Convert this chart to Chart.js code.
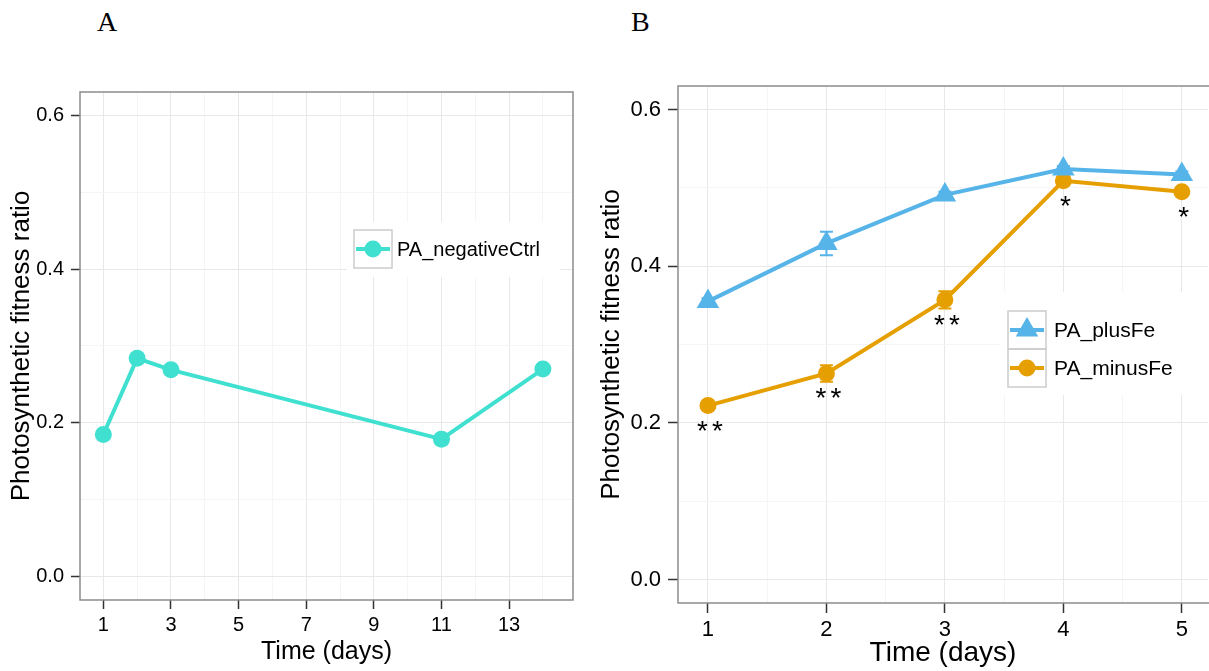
<!DOCTYPE html>
<html lang="en">
<head>
<meta charset="UTF-8">
<title>Photosynthetic fitness ratio</title>
<script src="https://cdn.jsdelivr.net/npm/chart.js"></script>
<style>
  body { margin: 0; background: #fff; }
  #wrap { position: relative; width: 1209px; height: 671px; overflow: hidden; }
  .panel { position: absolute; top: 0; }
  .tag { position: absolute; top: 6px; font-family: 'Liberation Serif', serif; font-size: 28px; color: #000; }
</style>
</head>
<body>
<div id="wrap">
  <div class="tag" style="left:97px">A</div>
  <div class="tag" style="left:631px">B</div>
  <canvas id="chartA" class="panel" style="left:0" width="590" height="671"></canvas>
  <!-- panel B runs past the right edge of the figure, as in the original -->
  <canvas id="chartB" class="panel" style="left:590px" width="631" height="671"></canvas>
</div>
<script>
// panel A data
const daysA = [1, 2, 3, 11, 14];
const negativeCtrl = [0.185, 0.284, 0.269, 0.179, 0.270];
const xTicksA = [1, 3, 5, 7, 9, 11, 13];

// panel B data
const daysB = [1, 2, 3, 4, 5];
const plusFe = [0.355, 0.429, 0.491, 0.524, 0.517];
const plusFeErr = [0.004, 0.015, 0.004, 0.004, 0.004];
const minusFe = [0.222, 0.263, 0.357, 0.509, 0.495];
const minusFeErr = [0.004, 0.0105, 0.011, 0.004, 0.004];
const signif = ['**', '**', '**', '*', '*'];
const xTicksB = [1, 2, 3, 4, 5];

const yTicks = [0, 0.2, 0.4, 0.6];

const TEAL = '#40E0D0', BLUE = '#56B4E9', ORANGE = '#E69F00';

// major ticks plus ggplot-style minor grid in between
function withMinor(major, max) {
  const step = major[1] - major[0];
  const out = [];
  major.forEach(v => {
    out.push({ value: v, main: true });
    if (v + step / 2 <= max) out.push({ value: v + step / 2, main: false });
  });
  return out;
}

function drawMarker(ctx, style, x, y, r) {
  ctx.beginPath();
  if (style === 'triangle') {
    ctx.moveTo(x, y - r);
    ctx.lineTo(x + r * Math.sin(2 * Math.PI / 3), y + r / 2);
    ctx.lineTo(x - r * Math.sin(2 * Math.PI / 3), y + r / 2);
    ctx.closePath();
  } else {
    ctx.arc(x, y, r, 0, Math.PI * 2);
  }
  ctx.fill();
}

const framePlugin = {
  id: 'frame',
  afterDraw(chart, args, opts) {
    const { ctx, chartArea: a } = chart;
    ctx.save();
    ctx.strokeStyle = '#8c8c8c';
    ctx.lineWidth = 1.5;
    ctx.beginPath();
    if (opts.right === false) {
      ctx.moveTo(a.right + 2, a.top);
      ctx.lineTo(a.left, a.top);
      ctx.lineTo(a.left, a.bottom);
      ctx.lineTo(a.right + 2, a.bottom);
    } else {
      ctx.rect(a.left, a.top, a.right - a.left, a.bottom - a.top);
    }
    ctx.stroke();
    ctx.restore();
  }
};

const errorBarPlugin = {
  id: 'errbars',
  afterDatasetsDraw(chart) {
    const { ctx, scales: { x, y } } = chart;
    ctx.save();
    chart.data.datasets.forEach(ds => {
      if (!ds.err) return;
      ctx.strokeStyle = ds.borderColor;
      ctx.lineWidth = 2;
      ds.data.forEach((p, i) => {
        const px = x.getPixelForValue(p.x);
        const top = y.getPixelForValue(p.y + ds.err[i]);
        const bot = y.getPixelForValue(p.y - ds.err[i]);
        ctx.beginPath();
        ctx.moveTo(px, top); ctx.lineTo(px, bot);
        ctx.moveTo(px - 6.5, top); ctx.lineTo(px + 6.5, top);
        ctx.moveTo(px - 6.5, bot); ctx.lineTo(px + 6.5, bot);
        ctx.stroke();
      });
    });
    ctx.restore();
  }
};

const starPlugin = {
  id: 'stars',
  afterDatasetsDraw(chart, args, opts) {
    if (!opts.labels) return;
    const { ctx, scales: { x, y } } = chart;
    ctx.save();
    ctx.fillStyle = '#000';
    ctx.font = '28px "Liberation Sans", Arial';
    ctx.letterSpacing = '4px';
    ctx.textAlign = 'center';
    ctx.textBaseline = 'alphabetic';
    opts.labels.forEach((t, i) => {
      const px = x.getPixelForValue(opts.days[i]) + 4;
      const py = y.getPixelForValue(opts.values[i]) + 34;
      ctx.fillText(t, px, py);
    });
    ctx.restore();
  }
};

const keyPlugin = {
  id: 'keys',
  afterDraw(chart, args, opts) {
    if (!opts.items) return;
    const { ctx } = chart;
    const k = opts.key;
    ctx.save();
    ctx.fillStyle = '#fff';
    ctx.fillRect(opts.bg[0], opts.bg[1], opts.bg[2], opts.bg[3]);
    opts.items.forEach((it, i) => {
      const kx = opts.x, ky = opts.y + i * k;
      ctx.strokeStyle = '#cccccc';
      ctx.lineWidth = 1.5;
      ctx.strokeRect(kx, ky, k, k);
      ctx.strokeStyle = it.color;
      ctx.lineWidth = 4;
      ctx.beginPath();
      ctx.moveTo(kx + 2, ky + k / 2);
      ctx.lineTo(kx + k - 2, ky + k / 2);
      ctx.stroke();
      ctx.fillStyle = it.color;
      drawMarker(ctx, it.style, kx + k / 2, ky + k / 2, it.r);
      ctx.fillStyle = '#000';
      ctx.font = opts.font;
      ctx.textAlign = 'left';
      ctx.textBaseline = 'middle';
      ctx.fillText(it.label, kx + k + opts.gap, ky + k / 2 + 1);
    });
    ctx.restore();
  }
};

function makeAxes(o) {
  const xt = withMinor(o.xTicks, o.xMax);
  const yt = withMinor(yTicks, 0.63);
  const gridColor = c => (c.tick && c.tick.main ? '#e8e8e8' : '#f5f5f5');
  const tickColor = c => (c.tick && c.tick.main ? '#333' : 'rgba(0,0,0,0)');
  return {
    x: {
      type: 'linear', min: o.xMin, max: o.xMax,
      afterBuildTicks: s => { s.ticks = xt.map(t => ({ ...t })); },
      afterFit: s => { s.height = o.xHeight; },
      grid: { color: gridColor, tickColor: tickColor, tickLength: o.tickLen, tickWidth: 1.5 },
      border: { display: false },
      ticks: {
        autoSkip: false, maxRotation: 0, padding: 4, color: '#000',
        font: { family: '"Liberation Sans", Arial', size: o.tickSize },
        callback: (v, i, ticks) => (ticks[i].main ? String(v) : '')
      },
      title: {
        display: true, text: 'Time (days)', color: '#000',
        font: { family: '"Liberation Sans", Arial', size: o.titleSize },
        padding: { top: 0, bottom: o.xTitlePad }
      }
    },
    y: {
      type: 'linear', min: -0.03, max: 0.63,
      afterBuildTicks: s => { s.ticks = yt.map(t => ({ ...t })); },
      afterFit: s => { s.width = o.yWidth; },
      grid: { color: gridColor, tickColor: tickColor, tickLength: o.tickLen, tickWidth: 1.5 },
      border: { display: false },
      ticks: {
        autoSkip: false, padding: 7, color: '#000',
        font: { family: '"Liberation Sans", Arial', size: o.tickSize },
        callback: (v, i, ticks) => (ticks[i].main ? v.toFixed(1) : '')
      },
      title: {
        display: true, text: 'Photosynthetic fitness ratio', color: '#000',
        font: { family: '"Liberation Sans", Arial', size: 26 },
        padding: { top: 6, bottom: 0 }
      }
    }
  };
}

new Chart(document.getElementById('chartA'), {
  type: 'line',
  data: {
    datasets: [{
      label: 'PA_negativeCtrl',
      data: daysA.map((d, i) => ({ x: d, y: negativeCtrl[i] })),
      borderColor: TEAL, backgroundColor: TEAL,
      borderWidth: 4, pointRadius: 8.5, pointHoverRadius: 8.5,
      pointBorderWidth: 0, tension: 0
    }]
  },
  options: {
    responsive: false, animation: false,
    layout: { padding: { top: 92, right: 17, left: 0, bottom: 0 } },
    scales: makeAxes({ xTicks: xTicksA, xMin: 0.31, xMax: 14.89, xHeight: 71, yWidth: 80, tickLen: 9, tickSize: 20, titleSize: 25, xTitlePad: 4 }),
    plugins: {
      legend: { display: false }, tooltip: { enabled: false },
      keys: {
        bg: [347, 222, 213, 55], x: 354, y: 230, key: 38, gap: 5,
        font: '20px "Liberation Sans", Arial',
        items: [{ label: 'PA_negativeCtrl', color: TEAL, style: 'circle', r: 8.5 }]
      }
    }
  },
  plugins: [framePlugin, keyPlugin]
});

new Chart(document.getElementById('chartB'), {
  type: 'line',
  data: {
    datasets: [{
      label: 'PA_plusFe',
      data: daysB.map((d, i) => ({ x: d, y: plusFe[i] })),
      err: plusFeErr,
      borderColor: BLUE, backgroundColor: BLUE,
      borderWidth: 4, pointStyle: 'triangle', pointRadius: 13, pointHoverRadius: 13,
      pointBorderWidth: 0, tension: 0
    }, {
      label: 'PA_minusFe',
      data: daysB.map((d, i) => ({ x: d, y: minusFe[i] })),
      err: minusFeErr,
      borderColor: ORANGE, backgroundColor: ORANGE,
      borderWidth: 4, pointRadius: 8.5, pointHoverRadius: 8.5,
      pointBorderWidth: 0, tension: 0
    }]
  },
  options: {
    responsive: false, animation: false,
    layout: { padding: { top: 86, right: 0, left: 0, bottom: 0 } },
    scales: makeAxes({ xTicks: xTicksB, xMin: 0.747, xMax: 5.221, xHeight: 68, yWidth: 88, tickLen: 10, tickSize: 22, titleSize: 28, xTitlePad: 1 }),
    plugins: {
      legend: { display: false }, tooltip: { enabled: false },
      frame: { right: false },
      stars: { labels: signif, days: daysB, values: minusFe },
      keys: {
        bg: [410, 292, 221, 103], x: 418, y: 311, key: 38, gap: 8,
        font: '21px "Liberation Sans", Arial',
        items: [
          { label: 'PA_plusFe', color: BLUE, style: 'triangle', r: 13 },
          { label: 'PA_minusFe', color: ORANGE, style: 'circle', r: 8.5 }
        ]
      }
    }
  },
  plugins: [framePlugin, errorBarPlugin, starPlugin, keyPlugin]
});
</script>
</body>
</html>
